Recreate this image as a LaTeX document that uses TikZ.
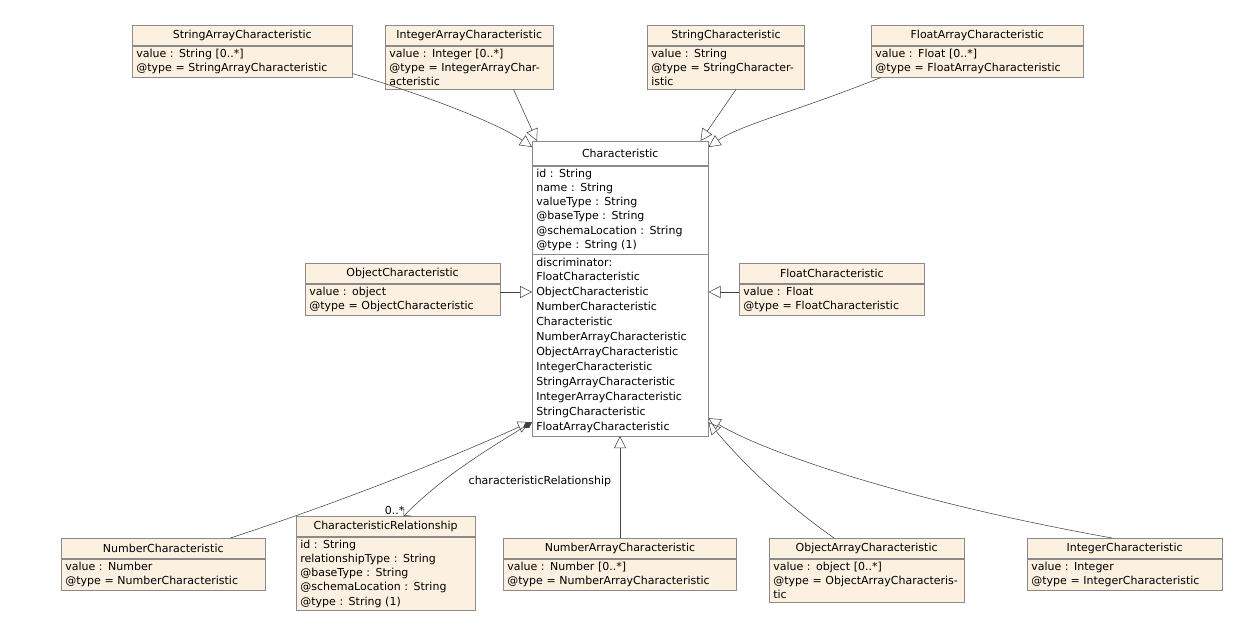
\documentclass[tikz,border=0pt]{standalone}
\usepackage{fontspec}
\setmainfont{DejaVu Sans}
\usetikzlibrary{positioning,arrows.meta,calc}
\definecolor{classfill}{HTML}{FCF1E0}
\definecolor{classline}{HTML}{8A8A8A}

\tikzset{
  umlhead/.style={draw=classline, fill=classfill, inner xsep=3pt, inner ysep=2pt,
    minimum height=15pt, font=\fontsize{8.25}{10.5}\selectfont, anchor=north west},
  umlbody/.style={draw=classline, fill=classfill, inner xsep=3pt, inner ysep=2.5pt,
    align=left, font=\fontsize{8.25}{10.6}\selectfont, below=0pt of #1},
  inherit/.style={draw=black!75, -{Triangle[open,length=9pt,width=9pt]}},
}

\begin{document}
\begin{tikzpicture}[x=0.75pt,y=-0.75pt]
\useasboundingbox (0,0) rectangle (1237,635);

% top row

\node[umlhead, minimum width=165pt] (sac) at (132,25) {StringArrayCharacteristic};
\node[umlbody=sac, text width=159pt] (sacb) {value : String [0..*]\\@type = StringArrayCharacteristic};

\node[umlhead, minimum width=126pt] (iac) at (385,25) {IntegerArrayCharacteristic};
\node[umlbody=iac, text width=120pt] (iacb) {value : Integer [0..*]\\@type = IntegerArrayCharacteristic};

\node[umlhead, minimum width=118pt] (sc) at (647,25) {StringCharacteristic};
\node[umlbody=sc, text width=112pt] (scb) {value : String\\@type = StringCharacteristic};

\node[umlhead, minimum width=159pt] (fac) at (871,25) {FloatArrayCharacteristic};
\node[umlbody=fac, text width=153pt] (facb) {value : Float [0..*]\\@type = FloatArrayCharacteristic};

% central class

\node[umlhead, fill=white, minimum width=132pt, minimum height=18pt] (ch) at (532,141) {Characteristic};
\node[umlbody=ch, fill=white, text width=126pt] (cha) {id : String\\name : String\\valueType : String\\@baseType : String\\@schemaLocation : String\\@type : String (1)};
\node[umlbody=cha, fill=white, text width=126pt, font=\fontsize{8.25}{11.2}\selectfont] (chd) {discriminator:\\FloatCharacteristic\\ObjectCharacteristic\\NumberCharacteristic\\Characteristic\\NumberArrayCharacteristic\\ObjectArrayCharacteristic\\IntegerCharacteristic\\StringArrayCharacteristic\\IntegerArrayCharacteristic\\StringCharacteristic\\FloatArrayCharacteristic};

% middle row

\node[umlhead, minimum width=146pt] (oc) at (305,263) {ObjectCharacteristic};
\node[umlbody=oc, text width=140pt] (ocb) {value : object\\@type = ObjectCharacteristic};

\node[umlhead, minimum width=139pt] (fc) at (739,263) {FloatCharacteristic};
\node[umlbody=fc, text width=133pt] (fcb) {value : Float\\@type = FloatCharacteristic};

% bottom row

\node[umlhead, minimum width=153pt] (nc) at (61,538) {NumberCharacteristic};
\node[umlbody=nc, text width=147pt] (ncb) {value : Number\\@type = NumberCharacteristic};

\node[umlhead, minimum width=134pt] (cr) at (296,516) {CharacteristicRelationship};
\node[umlbody=cr, text width=128pt] (crb) {id : String\\relationshipType : String\\@baseType : String\\@schemaLocation : String\\@type : String (1)};

\node[umlhead, minimum width=175pt] (nac) at (503,538) {NumberArrayCharacteristic};
\node[umlbody=nac, text width=169pt] (nacb) {value : Number [0..*]\\@type = NumberArrayCharacteristic};

\node[umlhead, minimum width=146pt] (oac) at (769,538) {ObjectArrayCharacteristic};
\node[umlbody=oac, text width=140pt] (oacb) {value : object [0..*]\\@type = ObjectArrayCharacteristic};

\node[umlhead, minimum width=146pt] (ic) at (1027,538) {IntegerCharacteristic};
\node[umlbody=ic, text width=140pt] (icb) {value : Integer\\@type = IntegerCharacteristic};

% generalisations

\draw[inherit] ($(sacb.south east)+(0,-4)$) .. controls (440,100) and (500,125) .. ($(ch.north west)+(0,6)$);
\draw[inherit] ($(iacb.south east)+(-40,0)$) -- ($(ch.north west)+(5,0)$);
\draw[inherit] ($(scb.south)+(10,0)$) -- ($(ch.north east)+(-8,0)$);
\draw[inherit] ($(facb.south west)+(10,0)$) .. controls (800,110) and (740,125) .. ($(ch.north east)+(0,6)$);
\coordinate (ocp) at (ocb.east |- 0,292);
\draw[inherit] (ocp) -- (ocp -| chd.west);
\coordinate (fcp) at (fcb.west |- 0,292);
\draw[inherit] (fcp) -- (fcp -| chd.east);
\draw[inherit] ($(nc.north east)+(-35,0)$) .. controls (300,515) and (400,480) .. ($(chd.south west)+(-2,-14)$);
\coordinate (nacp) at (nac.north -| 620,0);
\draw[inherit] (nacp) -- (nacp |- chd.south);
\draw[inherit] ($(oac.north west)+(65,0)$) .. controls (780,500) and (740,460) .. ($(chd.south east)+(0,-14)$);
\draw[inherit] ($(ic.north west)+(85,0)$) .. controls (900,500) and (760,450) .. ($(chd.south east)+(0,-18)$);

% composition

\draw[draw=black!75, {Diamond[length=8pt,width=5pt]}-{Straight Barb[length=4pt]}] ($(chd.south west)+(0,-14)$) .. controls (470,460) and (440,480) .. ($(cr.north)+(18,0)$)
  node[pos=0.95, left, font=\fontsize{8.25}{10}\selectfont] {0..*};
\node[font=\fontsize{8.25}{10}\selectfont, anchor=west] (crl) at (464,481) {characteristicRelationship};

\end{tikzpicture}
\end{document}
